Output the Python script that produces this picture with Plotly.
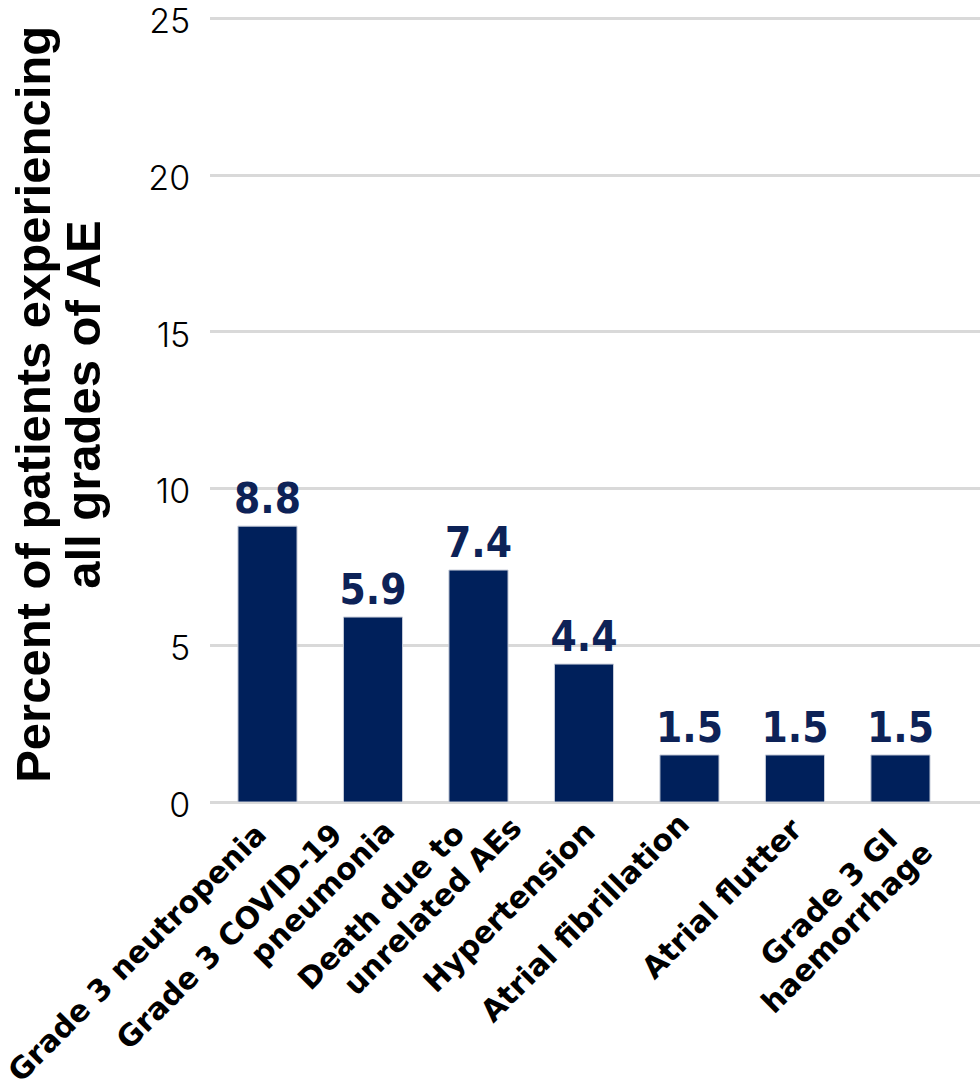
import plotly.graph_objects as go

# ---- data ----
categories = ["Grade 3 neutropenia", "Grade 3 COVID-19 pneumonia", "Death due to unrelated AEs",
              "Hypertension", "Atrial fibrillation", "Atrial flutter", "Grade 3 GI haemorrhage"]
label_lines = [["Grade 3 neutropenia"], ["Grade 3 COVID-19", "pneumonia"], ["Death due to", "unrelated AEs"],
               ["Hypertension"], ["Atrial fibrillation"], ["Atrial flutter"], ["Grade 3 GI", "haemorrhage"]]
values = [8.8, 5.9, 7.4, 4.4, 1.5, 1.5, 1.5]
value_text = ["8.8", "5.9", "7.4", "4.4", "1.5", "1.5", "1.5"]
y_ticks = [0, 5, 10, 15, 20, 25]
y_title_lines = ["Percent of patients experiencing", "all grades of AE"]

# ---- style ----
BAR = "#00205b"
GRID = "#d9d9d9"
W, H = 980, 1092
L, T, B = 210, 14, 290     # plot from x 210..980, y 14..802
PLOT_W = W - L
PLOT_BOTTOM = H - B
# per-line end offsets (px from category centre, y of line top-right corner)
line_end_pos = [[(-5, 825)], [(-35, 825), (17, 822)], [(-18, 825), (40, 818)],
                [(7, 822)], [(-4, 815)], [(3, 820)], [(-7, 830), (28, 843)]]
title_x_px = [33, 83]     # centres of the two title lines

x_idx = list(range(len(categories)))

fig = go.Figure()
fig.add_trace(go.Bar(
    x=x_idx, y=values, width=0.56,
    marker=dict(color=BAR, line=dict(color="#c5cbd8", width=1)),
    text=value_text, textposition="outside", constraintext="none", cliponaxis=False,
    textfont=dict(family="DejaVu Sans Condensed, sans-serif",
                  size=42, color="#0d2257", weight="bold"),
    hoverinfo="skip",
))

annotations = []
for i, lines in enumerate(label_lines):
    for line, (dx, ytop) in zip(lines, line_end_pos[i]):
        annotations.append(dict(
            x=i, y=0, xref="x", yref="y", text=line, showarrow=False,
            textangle=-45, xanchor="right", yanchor="top", borderpad=0,
            xshift=dx + 12, yshift=-(ytop - 10 - PLOT_BOTTOM),
            font=dict(family="DejaVu Sans, sans-serif", size=30, color="#000000", weight="bold"),
        ))
for line, xpx in zip(y_title_lines, title_x_px):
    annotations.append(dict(
        x=(xpx - L) / PLOT_W, y=0.504, xref="paper", yref="paper", text=line, showarrow=False,
        textangle=-90, xanchor="center", yanchor="middle", borderpad=0,
        font=dict(family="Liberation Sans, Arial, sans-serif", size=49, color="#000000", weight="bold"),
    ))

fig.update_layout(
    width=W, height=H,
    margin=dict(l=L, r=0, t=T, b=B, pad=0, autoexpand=False),
    paper_bgcolor="white", plot_bgcolor="white",
    showlegend=False,
    annotations=annotations,
    xaxis=dict(range=[-0.545, 6.754], showticklabels=False, showgrid=False, automargin=False,
               zeroline=False, showline=False, ticks=""),
    yaxis=dict(range=[0, 25.14], tickvals=y_ticks, showgrid=True, gridcolor=GRID, gridwidth=2.5,
               automargin=False,
               zeroline=True, zerolinecolor=GRID, zerolinewidth=2.5, showline=False,
               ticks="outside", ticklen=12, tickcolor="rgba(0,0,0,0)", ticklabeloverflow="allow",
               ticklabelshift=3,
               tickfont=dict(family="Inter, Lato, Noto Sans, sans-serif", size=34, color="#000000", weight=300)),
)

# remove the page's default 8px body margin so the figure fills the window
fig.write_html("out.html", config={"displayModeBar": False},
               post_script="document.body.style.margin='0';")
